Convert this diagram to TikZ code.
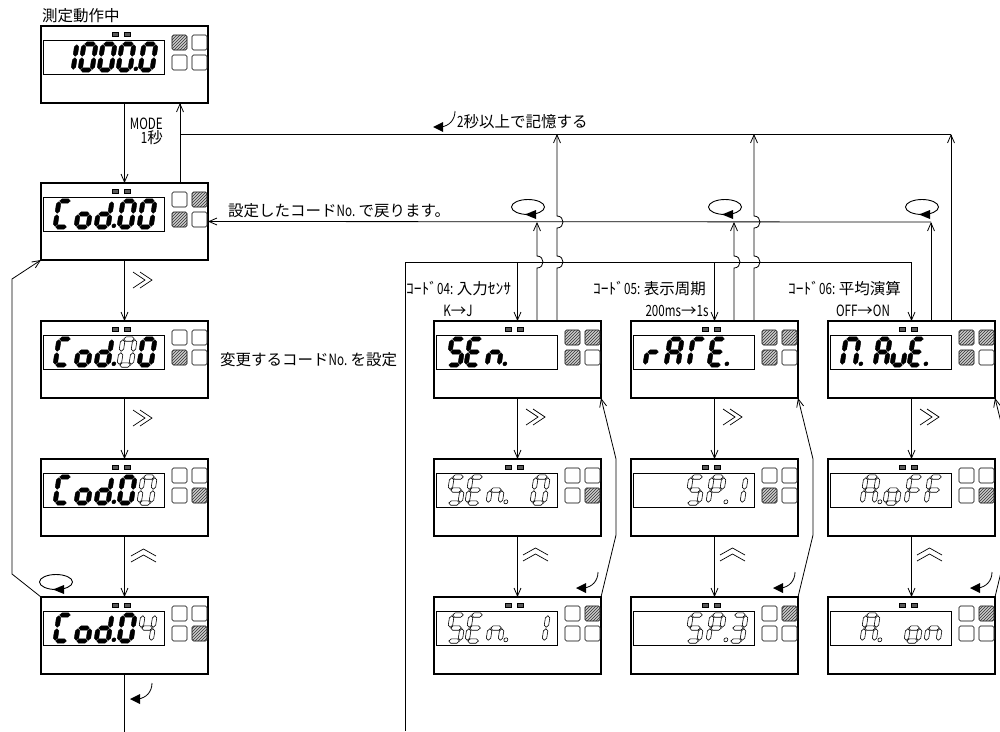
\documentclass[tikz,border=0pt]{standalone}
\usepackage{fontspec}
\setmainfont{Noto Sans CJK JP}
\usepackage{graphicx}
\usetikzlibrary{arrows.meta,patterns}

\newcommand\hw[1]{\scalebox{0.75}[1]{#1}}
\def\dH{26}\def\dT{2.2}\def\dG{0.7}
\newcommand\hsgm[3]{\path[segsty] ({#1+\dG},#3) -- ({#1+\dG+\dT},{#3-\dT}) -- ({#2-\dG-\dT},{#3-\dT}) -- ({#2-\dG},#3) -- ({#2-\dG-\dT},{#3+\dT}) -- ({#1+\dG+\dT},{#3+\dT}) -- cycle;}
\newcommand\vsgm[3]{\path[segsty] (#1,{#2+\dG}) -- ({#1+\dT},{#2+\dG+\dT}) -- ({#1+\dT},{#3-\dG-\dT}) -- (#1,{#3-\dG}) -- ({#1-\dT},{#3-\dG-\dT}) -- ({#1-\dT},{#2+\dG+\dT}) -- cycle;}
\expandafter\def\csname segma\endcsname{\hsgm{0}{\dW}{0}}
\expandafter\def\csname segmb\endcsname{\vsgm{\dW}{0}{13}}
\expandafter\def\csname segmc\endcsname{\vsgm{\dW}{13}{26}}
\expandafter\def\csname segmd\endcsname{\hsgm{0}{\dW}{26}}
\expandafter\def\csname segme\endcsname{\vsgm{0}{13}{26}}
\expandafter\def\csname segmf\endcsname{\vsgm{0}{0}{13}}
\expandafter\def\csname segmg\endcsname{\hsgm{0}{\dW}{13}}

\newcommand\dg[5][12]{%
 \begin{scope}[shift={(#2,18)},xslant=0.15,segsty/.style={#4}]
 \def\dW{#1}%
 \foreach \s in {#3}{\csname segm\s\endcsname}%
 \ifnum#5=1 \path[segsty] ({\dW+5.6},{\dH-1.2}) circle (2);\fi
 \end{scope}}

\newcommand\device[8]{%
 \node[devbox] (#1) at ({#2+83.5},{#3+38.5}) {};
 \begin{scope}[shift={(#2,#3)}]
 \draw[line width=0.8pt] (2,14) rectangle (123,48);
 \draw[fill=black!65,line width=0.3pt] (71,6) rectangle (77,10.5) (83,6) rectangle (89,10.5);
 \path[btn#4] (131,9) rectangle (146,24);
 \path[btn#5] (151,9) rectangle (166,24);
 \path[btn#6] (131,29) rectangle (146,44);
 \path[btn#7] (151,29) rectangle (166,44);
 #8
 \end{scope}}

\newcommand\chevR[2]{\draw[line width=0.7pt] (#1,{#2-8}) -- ({#1+12},#2) -- (#1,{#2+8}) ({#1+7},{#2-8}) -- ({#1+19},#2) -- ({#1+7},{#2+8});}
\newcommand\chevU[2]{\draw[line width=0.7pt] (#1,{#2+7}) -- ({#1+12.5},#2) -- ({#1+25},{#2+7}) (#1,{#2+13}) -- ({#1+12.5},{#2+6}) -- ({#1+25},{#2+13});}
\newcommand\hookar[2]{\draw[line width=0.8pt] ({#1+22},{#2-16}) .. controls ({#1+22},{#2-7}) and ({#1+16},{#2-1}) .. ({#1+8},#2); \fill ({#1},#2) -- ({#1+10},{#2-5}) -- ({#1+10},{#2+5}) -- cycle;}
\newcommand\loopar[2]{\draw[line width=0.9pt] (#1,#2) ellipse [x radius=16.5, y radius=7.5]; \fill ({#1-3},{#2+7.5}) -- ({#1+8},{#2+3}) -- ({#1+8},{#2+12}) -- cycle;}

\tikzset{
 devbox/.style={draw,line width=1.1pt,minimum width=167pt,minimum height=77pt,inner sep=0pt,outer sep=0pt},
 conn/.style={line width=0.8pt},
 arr/.style={conn,-{Straight Barb[length=8pt,width=7pt]}},
 lbl/.style={inner sep=0pt,font=\fontsize{15.5}{17}\selectfont},
 segS/.style={fill=black,draw=black,line width=0.4pt},
 segH/.style={fill=white,draw=black,line width=0.6pt},
 btnH/.style={draw,line width=0.6pt,fill=gray!40,rounded corners=1.5pt,postaction={pattern=north east lines,pattern color=black!80}},
 btnE/.style={draw,line width=0.6pt,fill=white,rounded corners=1.5pt},
}

\begin{document}
\begin{tikzpicture}[x=1pt,y=-1pt]
\useasboundingbox (0,0) rectangle (1000,731);
\clip (0,0) rectangle (1000,731);
\fill[white] (0,0) rectangle (1000,731);

% ---------- left column ----------
\device{b1}{41}{26}{H}{E}{E}{E}{%
 \dg{24}{b,c}{segS}{0}\dg{43}{a,b,c,d,e,f}{segS}{0}\dg{62}{a,b,c,d,e,f}{segS}{0}%
 \dg{81}{a,b,c,d,e,f}{segS}{1}\dg{103}{a,b,c,d,e,f}{segS}{0}}
\device{b2}{41}{183}{E}{H}{H}{E}{%
 \dg{18}{a,d,e,f}{segS}{0}\dg{39}{c,d,e,g}{segS}{0}\dg{59}{b,c,d,e,g}{segS}{1}%
 \dg{82}{a,b,c,d,e,f}{segS}{0}\dg{102}{a,b,c,d,e,f}{segS}{0}}
\device{b3}{41}{321}{E}{E}{H}{E}{%
 \dg{18}{a,d,e,f}{segS}{0}\dg{39}{c,d,e,g}{segS}{0}\dg{59}{b,c,d,e,g}{segS}{1}%
 \dg{82}{a,b,c,d,e,f}{segH}{0}\dg{102}{a,b,c,d,e,f}{segS}{0}}
\device{b4}{41}{459}{E}{E}{E}{H}{%
 \dg{18}{a,d,e,f}{segS}{0}\dg{39}{c,d,e,g}{segS}{0}\dg{59}{b,c,d,e,g}{segS}{1}%
 \dg{82}{a,b,c,d,e,f}{segS}{0}\dg{102}{a,b,c,d,e,f}{segH}{0}}
\device{b5}{41}{597}{E}{E}{E}{H}{%
 \dg{18}{a,d,e,f}{segS}{0}\dg{39}{c,d,e,g}{segS}{0}\dg{59}{b,c,d,e,g}{segS}{1}%
 \dg{82}{a,b,c,d,e,f}{segS}{0}\dg{102}{b,c,f,g}{segH}{0}}

% ---------- column 1 ----------
\device{c1a}{434}{321}{H}{H}{H}{E}{%
 \dg{18}{a,f,g,c,d}{segS}{0}\dg{36}{a,f,g,e,d}{segS}{0}\dg{57}{c,e,g}{segS}{1}}
\device{c1b}{434}{459}{E}{E}{E}{H}{%
 \dg{18}{a,f,g,c,d}{segH}{0}\dg{37}{a,f,g,e,d}{segH}{0}\dg{58}{c,e,g}{segH}{1}%
 \dg{102}{a,b,c,d,e,f}{segH}{0}}
\device{c1c}{434}{597}{E}{H}{E}{E}{%
 \dg{18}{a,f,g,c,d}{segH}{0}\dg{37}{a,f,g,e,d}{segH}{0}\dg{58}{c,e,g}{segH}{1}%
 \dg{102}{b,c}{segH}{0}}
% ---------- column 2 ----------
\device{c2a}{631}{321}{H}{H}{H}{E}{%
 \dg{18}{e,g}{segS}{0}\dg{39}{a,b,c,e,f,g}{segS}{0}\dg{62}{a,e,f}{segS}{0}%
 \dg{82}{a,f,g,e,d}{segS}{1}}
\device{c2b}{631}{459}{E}{E}{H}{E}{%
 \dg{60}{a,f,g,c,d}{segH}{0}\dg{81}{a,b,e,f,g}{segH}{1}\dg{103}{b,c}{segH}{0}}
\device{c2c}{631}{597}{E}{H}{E}{E}{%
 \dg{60}{a,f,g,c,d}{segH}{0}\dg{81}{a,b,e,f,g}{segH}{1}\dg{103}{a,b,c,d,g}{segH}{0}}
% ---------- column 3 ----------
\device{c3a}{828}{321}{H}{H}{H}{E}{%
 \dg[13]{18}{a,b,c,e,f}{segS}{1}\dg[11]{51}{a,b,c,e,f,g}{segS}{0}%
 \dg[11]{68}{c,d,e}{segS}{0}\dg[11]{85}{a,f,g,e,d}{segS}{1}}
\device{c3b}{828}{459}{E}{E}{E}{H}{%
 \dg{38}{a,b,c,e,f,g}{segH}{1}\dg{61}{c,d,e,g}{segH}{0}%
 \dg{82}{a,f,g,e}{segH}{0}\dg{102}{a,f,g,e}{segH}{0}}
\device{c3c}{828}{597}{E}{H}{E}{E}{%
 \dg{38}{a,b,c,e,f,g}{segH}{1}\dg{82}{c,d,e,g}{segH}{0}\dg{102}{c,e,g}{segH}{0}}

% ---------- texts ----------
\node[lbl,anchor=west] (t0) at (42,16) {測定動作中};
\node[lbl,anchor=east] (t1) at (163,124) {\hw{MODE}};
\node[lbl,anchor=east] (t2) at (163,138) {\hw{1}秒};
\node[lbl,anchor=west] (t3) at (457,122) {\hw{2}秒以上で記憶する};
\node[lbl,anchor=west] (t4) at (228,211) {設定したコード\hw{No.} で戻ります。};
\node[lbl,anchor=west] (t5) at (220,360) {変更するコード\hw{No.} を設定};
\node[lbl,anchor=west] (t6) at (406,289) {ｺｰﾄﾞ\hw{04:} 入力ｾﾝｻ};
\node[lbl] (t7) at (458,311) {\hw{K}→\hw{J}};
\node[lbl,anchor=west] (t8) at (593,289) {ｺｰﾄﾞ\hw{05:} 表示周期};
\node[lbl] (t9) at (677,311) {\hw{200ms}→\hw{1s}};
\node[lbl,anchor=west] (t10) at (788,289) {ｺｰﾄﾞ\hw{06:} 平均演算};
\node[lbl] (t11) at (863,311) {\hw{OFF}→\hw{ON}};

% ---------- left column connectors ----------
\coordinate (h134L) at (180,134);
\coordinate (h134R) at (951,134);
\coordinate (h222) at (0,222);
\coordinate (h262) at (0,262);
\draw[arr] (b1.south) -- (b2.north);
\draw[arr] ([xshift=139pt]b2.north west) -- ([xshift=139pt]b1.south west);
\draw[conn] (h134L) -- (h134R);
\draw[arr] (b2.south) -- (b3.north);
\draw[arr] (b3.south) -- (b4.north);
\draw[arr] (b4.south) -- (b5.north);
\draw[conn] (b5.south) -- ++(0,60);
\draw[arr] (b5.north west) -- (12,574) -- (12,279) -- (b2.south west);
\chevR{133}{280}
\chevR{133}{418}
\chevU{131}{549}
\loopar{56}{582}
\hookar{130}{699}
\hookar{433}{127}

% ---------- right columns ----------
\draw[arr] (931,222) -- (b2.east);
\draw[conn] (405,731) -- (405,262) -- (911.5,262);
\foreach \c/\x in {c1/434,c2/631,c3/828}{
 \draw[arr] (\c a.north |- h262) -- (\c a.north);
 \draw[arr] (\c a.south) -- (\c b.north);
 \draw[arr] (\c b.south) -- (\c c.north);
 \draw[arr] (\c c.north east) -- ++(15,-62) -- ++(0,-76) -- (\c a.south east);
 \chevR{\x+92}{417}
 \chevU{\x+89}{548}
 \hookar{\x+142}{588}
 \loopar{\x+94}{207}
}
% up lines with bumps
\draw[arr] ([xshift=123pt]c1a.north west) -- (557,268) .. controls (565,268) and (565,256) .. (557,256) -- (557,228) .. controls (565,228) and (565,216) .. (557,216) -- (557,134);
\draw[arr] ([xshift=123pt]c2a.north west) -- (754,268) .. controls (762,268) and (762,256) .. (754,256) -- (754,228) .. controls (762,228) and (762,216) .. (754,216) -- (754,134);
\draw[arr] ([xshift=123pt]c3a.north west) -- (951,134);
\draw[arr] ([xshift=103pt]c1a.north west) -- (537,268) .. controls (545,268) and (545,256) .. (537,256) -- (537,222);
\draw[arr] ([xshift=103pt]c2a.north west) -- (734,268) .. controls (742,268) and (742,256) .. (734,256) -- (734,222);
\draw[arr] ([xshift=103pt]c3a.north west) -- (931,222);
\end{tikzpicture}
\end{document}
